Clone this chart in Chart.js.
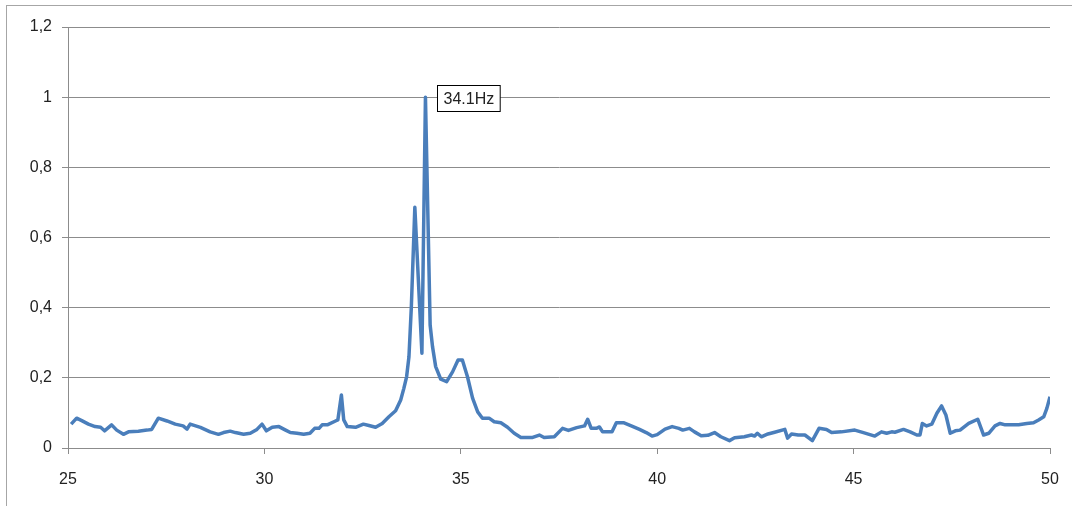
<!DOCTYPE html>
<html>
<head>
<meta charset="utf-8">
<script src="https://cdn.jsdelivr.net/npm/chart.js@4/dist/chart.umd.min.js"></script>
<style>
  body { margin: 0; background: #fff; overflow: hidden; }
  #wrap { position: relative; width: 1072px; height: 506px; }
  #frame { position: absolute; left: 6px; top: 5px; width: 1100px; height: 540px;
           border-left: 1px solid #a6a6a6; border-top: 1px solid #a6a6a6; }
  canvas { position: absolute; left: 0; top: 0; }
</style>
</head>
<body>
<div id="wrap">
  <div id="frame"></div>
  <canvas id="grafico" width="1072" height="506"></canvas>
</div>
<script>
// frequencia (Hz) e amplitude normalizada
var frequencias = [
  25.08, 25.22, 25.35, 25.52, 25.69, 25.83, 25.93, 26.11, 26.24, 26.41,
  26.54, 26.79, 27.01, 27.13, 27.30, 27.52, 27.73, 27.93, 28.03, 28.11,
  28.37, 28.62, 28.83, 28.96, 29.13, 29.26, 29.47, 29.64, 29.81, 29.94,
  30.05, 30.20, 30.37, 30.54, 30.66, 30.83, 31.00, 31.16, 31.28, 31.39,
  31.47, 31.60, 31.81, 31.87, 31.96, 32.02, 32.11, 32.32, 32.52, 32.66,
  32.83, 33.00, 33.17, 33.34, 33.47, 33.55, 33.62, 33.68, 33.74, 33.83,
  34.01, 34.10, 34.22, 34.28, 34.36, 34.49, 34.64, 34.79, 34.93, 35.04,
  35.17, 35.30, 35.43, 35.55, 35.72, 35.85, 36.02, 36.19, 36.36, 36.53,
  36.83, 37.00, 37.12, 37.38, 37.59, 37.74, 37.95, 38.15, 38.23, 38.32,
  38.45, 38.53, 38.61, 38.85, 38.96, 39.14, 39.34, 39.55, 39.72, 39.87,
  40.00, 40.20, 40.38, 40.55, 40.65, 40.82, 40.95, 41.12, 41.29, 41.46,
  41.62, 41.84, 41.97, 42.22, 42.40, 42.48, 42.55, 42.65, 42.82, 42.99,
  43.25, 43.32, 43.42, 43.59, 43.76, 43.95, 44.12, 44.31, 44.44, 44.69,
  45.03, 45.25, 45.54, 45.71, 45.84, 45.97, 46.05, 46.27, 46.44, 46.61,
  46.69, 46.75, 46.86, 46.99, 47.12, 47.24, 47.35, 47.46, 47.59, 47.71,
  47.93, 48.16, 48.31, 48.44, 48.60, 48.73, 48.86, 49.20, 49.41, 49.58,
  49.71, 49.84, 49.92, 50.00
];
var amplitudes = [
  0.068, 0.085, 0.078, 0.068, 0.061, 0.059, 0.049, 0.066, 0.051, 0.039,
  0.046, 0.048, 0.051, 0.053, 0.085, 0.077, 0.068, 0.063, 0.054, 0.068,
  0.059, 0.046, 0.039, 0.044, 0.048, 0.044, 0.039, 0.042, 0.053, 0.068,
  0.049, 0.059, 0.061, 0.051, 0.044, 0.042, 0.039, 0.042, 0.056, 0.056,
  0.066, 0.066, 0.077, 0.080, 0.151, 0.080, 0.061, 0.059, 0.068, 0.064,
  0.059, 0.070, 0.089, 0.106, 0.137, 0.170, 0.203, 0.260, 0.400, 0.686,
  0.270, 1.000, 0.350, 0.289, 0.232, 0.196, 0.189, 0.217, 0.251, 0.251,
  0.203, 0.142, 0.103, 0.085, 0.085, 0.075, 0.072, 0.059, 0.042, 0.030,
  0.030, 0.037, 0.030, 0.032, 0.056, 0.050, 0.058, 0.063, 0.082, 0.056,
  0.056, 0.060, 0.046, 0.046, 0.072, 0.072, 0.063, 0.053, 0.044, 0.034,
  0.038, 0.054, 0.061, 0.056, 0.051, 0.056, 0.046, 0.035, 0.036, 0.044,
  0.032, 0.021, 0.029, 0.032, 0.037, 0.034, 0.042, 0.032, 0.040, 0.045,
  0.053, 0.028, 0.040, 0.037, 0.037, 0.021, 0.056, 0.053, 0.044, 0.046,
  0.051, 0.044, 0.034, 0.046, 0.042, 0.046, 0.045, 0.053, 0.046, 0.037,
  0.037, 0.070, 0.063, 0.068, 0.099, 0.120, 0.094, 0.042, 0.049, 0.051,
  0.070, 0.082, 0.037, 0.042, 0.063, 0.070, 0.066, 0.066, 0.070, 0.072,
  0.080, 0.089, 0.113, 0.146
];
var rotuloPico = "34.1Hz";
var eixoX = { min: 25, max: 50, passo: 5 };
var eixoY = { min: 0, max: 1.2, passo: 0.2 };

var pontos = [];
for (var i = 0; i < frequencias.length; i++) {
  pontos.push({ x: frequencias[i], y: amplitudes[i] });
}

var corGrade = "#8c8c8c";
var fonte = { family: "'Liberation Sans', Arial, sans-serif", size: 16 };

// caixa com o texto do pico
var pluginPico = {
  id: 'rotuloPico',
  afterDatasetsDraw: function(chart) {
    var idx = 0;
    for (var i = 1; i < amplitudes.length; i++) {
      if (amplitudes[i] > amplitudes[idx]) idx = i;
    }
    var px = chart.scales.x.getPixelForValue(frequencias[idx]);
    var py = chart.scales.y.getPixelForValue(amplitudes[idx]);
    var ctx = chart.ctx;
    ctx.save();
    ctx.font = "16px 'Liberation Sans', Arial, sans-serif";
    var w = ctx.measureText(rotuloPico).width + 12;
    var h = 26;
    var bx = Math.round(px + 12) + 0.5;
    var by = Math.round(py - 12) + 0.5;
    ctx.fillStyle = "#fff";
    ctx.fillRect(bx, by, w, h);
    ctx.strokeStyle = "#000";
    ctx.lineWidth = 1;
    ctx.strokeRect(bx, by, w, h);
    ctx.fillStyle = "#222";
    ctx.textBaseline = "middle";
    ctx.fillText(rotuloPico, bx + 6, by + h / 2 + 1);
    ctx.restore();
  }
};

var mChart = new Chart(document.getElementById("grafico"), {
  type: 'line',
  data: {
    datasets: [{
      data: pontos,
      borderColor: "#4a7ebb",
      borderWidth: 3.5,
      borderJoinStyle: 'round',
      pointRadius: 0,
      fill: false,
      tension: 0
    }]
  },
  options: {
    responsive: false,
    animation: false,
    layout: { padding: { top: 27, right: 22, left: 0, bottom: 0 } },
    plugins: { legend: { display: false }, tooltip: { enabled: false } },
    scales: {
      x: {
        type: 'linear',
        min: eixoX.min,
        max: eixoX.max,
        afterFit: function(s) { s.height = 58; s.paddingLeft = 0; s.paddingRight = 0; },
        border: { color: corGrade, width: 1 },
        grid: { drawOnChartArea: false, color: corGrade, tickLength: 6 },
        ticks: { stepSize: eixoX.passo, color: "#222", font: fonte, padding: 16, maxRotation: 0 }
      },
      y: {
        min: eixoY.min,
        max: eixoY.max,
        afterFit: function(s) { s.width = 68; s.paddingTop = 0; s.paddingBottom = 0; },
        border: { color: corGrade, width: 1 },
        grid: { color: corGrade, tickLength: 6 },
        ticks: {
          stepSize: eixoY.passo,
          color: "#222",
          font: fonte,
          padding: 10,
          callback: function(v) { return Number(v.toFixed(1)).toString().replace('.', ','); }
        }
      }
    }
  },
  plugins: [pluginPico]
});
</script>
</body>
</html>
